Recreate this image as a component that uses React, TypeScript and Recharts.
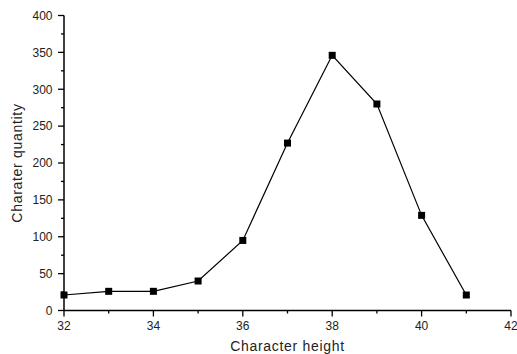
import React from 'react';
import { LineChart, Line, XAxis, YAxis, Label } from 'recharts';

const heights = [32, 33, 34, 35, 36, 37, 38, 39, 40, 41];
const quantities = [21, 26, 26, 40, 95, 227, 346, 280, 129, 21];
const xTicks = [32, 33, 34, 35, 36, 37, 38, 39, 40, 41, 42];
const yTicks = [0, 25, 50, 75, 100, 125, 150, 175, 200, 225, 250, 275, 300, 325, 350, 375, 400];

const data = heights.map((h, i) => ({ h, q: quantities[i] }));

const FONT = 'Liberation Sans, Arial, sans-serif';

const XTick = (props: any) => {
  const { x, y, payload } = props;
  const major = payload.value % 2 === 0;
  return (
    <g>
      <line x1={x} y1={y} x2={x} y2={y + (major ? 6 : 3)} stroke="#000" strokeWidth={1.3} />
      {major && (
        <text x={x} y={y + 19.5} textAnchor="middle" fontSize={12} fontFamily={FONT} fill="#222">
          {payload.value}
        </text>
      )}
    </g>
  );
};

const YTick = (props: any) => {
  const { x, y, payload } = props;
  const major = payload.value % 50 === 0;
  return (
    <g>
      <line x1={x} y1={y} x2={x - (major ? 6 : 3)} y2={y} stroke="#000" strokeWidth={1.3} />
      {major && (
        <text x={x - 11.5} y={y + 4.3} textAnchor="end" fontSize={12} fontFamily={FONT} fill="#222">
          {payload.value}
        </text>
      )}
    </g>
  );
};

const Square = (props: any) => {
  const { cx, cy } = props;
  return <rect x={cx - 3.5} y={cy - 3.5} width={7} height={7} fill="#000" />;
};

export default function App() {
  return (
    <div style={{ position: 'absolute', left: 0, top: 0, background: '#fff' }}>
      <LineChart width={517} height={354} data={data} margin={{ top: 15.5, right: 6, left: 0, bottom: 0 }}>
        <XAxis
          dataKey="h"
          type="number"
          domain={[32, 42]}
          ticks={xTicks}
          interval={0}
          height={43.5}
          tickSize={0}
          tickMargin={0}
          tickLine={false}
          tick={<XTick />}
          axisLine={{ stroke: '#000', strokeWidth: 1.5 }}
        >
          <Label value="Character height" position="insideBottom" offset={3} style={{ fontSize: 14, fontFamily: FONT, fill: '#222', letterSpacing: 0.7 }} />
        </XAxis>
        <YAxis
          type="number"
          domain={[0, 400]}
          ticks={yTicks}
          interval={0}
          width={64}
          tickSize={0}
          tickMargin={0}
          tickLine={false}
          tick={<YTick />}
          axisLine={{ stroke: '#000', strokeWidth: 1.5 }}
        >
          <Label value="Charater quantity" angle={-90} position="insideLeft" offset={17} style={{ fontSize: 14, fontFamily: FONT, fill: '#222', textAnchor: 'middle', letterSpacing: 0.7 }} />
        </YAxis>
        <Line
          dataKey="q"
          stroke="#000"
          strokeWidth={1.2}
          dot={<Square />}
          activeDot={false}
          isAnimationActive={false}
        />
      </LineChart>
    </div>
  );
}
